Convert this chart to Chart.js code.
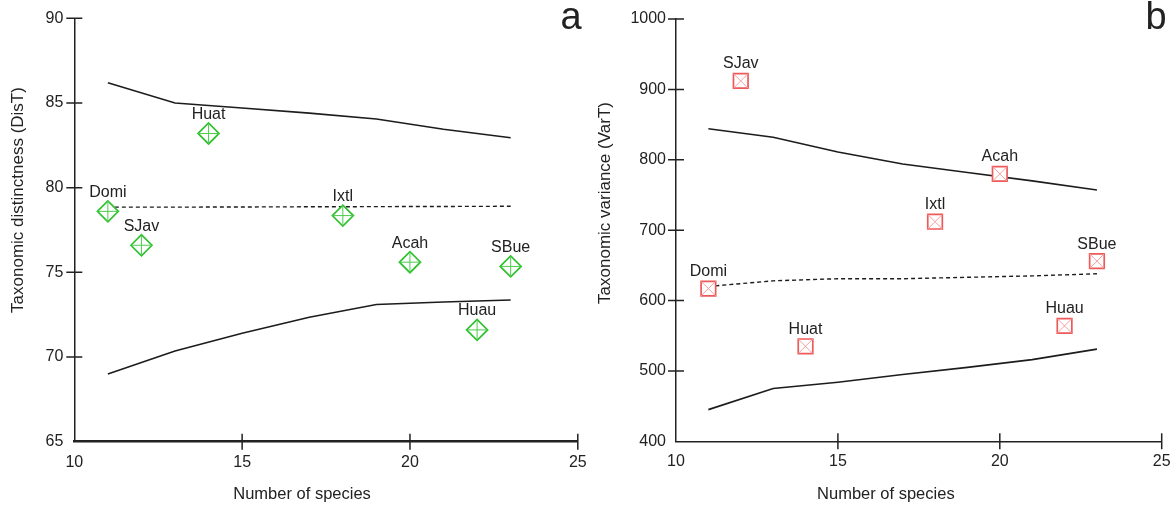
<!DOCTYPE html>
<html>
<head>
<meta charset="utf-8">
<title>Taxonomic distinctness and variance</title>
<script src="https://cdn.jsdelivr.net/npm/chart.js@4.4.1/dist/chart.umd.min.js"></script>
<style>
    html, body { margin: 0; padding: 0; background: #fff; }
    #wrap { position: relative; width: 1176px; height: 505px; overflow: hidden; }
    .panel { position: absolute; top: 0; height: 505px; }
    #distPanel { left: 0; width: 590px; }
    #varPanel { left: 590px; width: 586px; }
</style>
</head>
<body>
<div id="wrap">
    <div class="panel" id="distPanel"><canvas id="distChart"></canvas></div>
    <div class="panel" id="varPanel"><canvas id="varChart"></canvas></div>
</div>
<script>
// sites and their observed values
const sites = ['Domi', 'SJav', 'Huat', 'Ixtl', 'Acah', 'SBue', 'Huau'];
const speciesCount = [11, 12, 14, 18, 20, 23, 22];
const distinctness = [78.6, 76.6, 83.2, 78.35, 75.6, 75.35, 71.6];
const variance = [617, 912, 535, 712, 780, 656, 564];

// expected mean and 95% funnel limits
const funnelX = [11, 13, 15, 17, 19, 21, 23];
const distUpper = [86.2, 85.0, 84.7, 84.4, 84.05, 83.45, 82.95];
const distMean = [78.85, 78.85, 78.86, 78.87, 78.88, 78.89, 78.9];
const distLower = [69.0, 70.35, 71.4, 72.35, 73.1, 73.25, 73.37];
const varUpper = [844, 832, 811, 794, 782, 770, 757];
const varMean = [620, 628, 631, 631, 633, 635, 638];
const varLower = [445, 475, 484, 495, 505, 516, 531];

// axis ticks
const speciesTicks = [10, 15, 20, 25];
const distTicks = [65, 70, 75, 80, 85, 90];
const varTicks = [400, 500, 600, 700, 800, 900, 1000];

const FONT = '"Liberation Sans", Arial, Helvetica, sans-serif';
const INK = '#222';

Chart.defaults.font.family = FONT;
Chart.defaults.font.size = 16;
Chart.defaults.color = INK;

function pts(xs, ys) {
    return xs.map((x, i) => ({ x: x, y: ys[i] }));
}

// tick marks that straddle the axis line (the origin tick is left out)
const crossTicks = {
    id: 'crossTicks',
    afterDraw(chart) {
        const { ctx, chartArea, scales } = chart;
        const len = 8;
        ctx.save();
        ctx.strokeStyle = INK;
        ctx.lineWidth = 1.5;
        ctx.beginPath();
        scales.x.ticks.forEach(t => {
            if (t.value === scales.x.min) return;
            const px = scales.x.getPixelForValue(t.value);
            ctx.moveTo(px, chartArea.bottom - len);
            ctx.lineTo(px, chartArea.bottom + len);
        });
        scales.y.ticks.forEach(t => {
            if (t.value === scales.y.min) return;
            const py = scales.y.getPixelForValue(t.value);
            ctx.moveTo(chartArea.left - len, py);
            ctx.lineTo(chartArea.left + len, py);
        });
        ctx.stroke();
        ctx.restore();
    }
};

// site names above each marker
const siteLabels = {
    id: 'siteLabels',
    afterDatasetsDraw(chart, args, opts) {
        const meta = chart.getDatasetMeta(opts.datasetIndex);
        const ctx = chart.ctx;
        ctx.save();
        ctx.font = '16px ' + FONT;
        ctx.fillStyle = INK;
        ctx.textAlign = 'center';
        ctx.textBaseline = 'middle';
        meta.data.forEach((pt, i) => {
            ctx.fillText(sites[i], pt.x, pt.y - opts.offset);
        });
        ctx.restore();
    }
};

// axis titles and the panel letter
const panelText = {
    id: 'panelText',
    afterDraw(chart, args, opts) {
        const { ctx, chartArea } = chart;
        ctx.save();
        ctx.fillStyle = INK;
        ctx.textAlign = 'center';
        ctx.textBaseline = 'middle';
        ctx.font = '16.5px ' + FONT;
        ctx.fillText(opts.xTitle, (chartArea.left + chartArea.right) / 2 + opts.xTitleShift, opts.xTitleY);

        ctx.save();
        ctx.font = opts.yTitleSize + 'px ' + FONT;
        ctx.translate(opts.yTitleX, opts.yTitleY);
        ctx.rotate(-Math.PI / 2);
        ctx.fillText(opts.yTitle, 0, 0);
        ctx.restore();

        ctx.font = '38px ' + FONT;
        ctx.textBaseline = 'alphabetic';
        ctx.fillText(opts.letter, opts.letterX, 29);
        ctx.restore();
    }
};

function buildChart(canvasId, cfg) {
    const ctx = document.getElementById(canvasId);
    if (!ctx) return;

    new Chart(ctx, {
        type: 'scatter',
        data: {
            datasets: [
                {
                    label: 'marker inner',
                    data: pts(speciesCount, cfg.values),
                    pointStyle: cfg.innerStyle,
                    pointRadius: cfg.radius,
                    borderColor: cfg.innerColor,
                    borderWidth: 1,
                    backgroundColor: 'rgba(0,0,0,0)',
                    order: 0
                },
                {
                    label: 'sites',
                    data: pts(speciesCount, cfg.values),
                    pointStyle: cfg.outerStyle,
                    pointRadius: cfg.radius,
                    borderColor: cfg.outerColor,
                    borderWidth: 1.7,
                    backgroundColor: '#fff',
                    order: 1
                },
                {
                    label: 'upper limit',
                    data: pts(funnelX, cfg.upper),
                    showLine: true,
                    pointRadius: 0,
                    borderColor: '#1c1c1c',
                    borderWidth: 1.6,
                    order: 2
                },
                {
                    label: 'mean',
                    data: pts(funnelX, cfg.mean),
                    showLine: true,
                    pointRadius: 0,
                    borderColor: '#1c1c1c',
                    borderWidth: 1.4,
                    borderDash: [4, 3],
                    order: 2
                },
                {
                    label: 'lower limit',
                    data: pts(funnelX, cfg.lower),
                    showLine: true,
                    pointRadius: 0,
                    borderColor: '#1c1c1c',
                    borderWidth: 1.6,
                    order: 2
                }
            ]
        },
        options: {
            responsive: true,
            maintainAspectRatio: false,
            animation: false,
            events: [],
            clip: false,
            layout: {
                padding: cfg.padding
            },
            plugins: {
                legend: { display: false },
                tooltip: { enabled: false },
                siteLabels: { datasetIndex: 1, offset: cfg.labelOffset },
                panelText: cfg.text
            },
            scales: {
                x: {
                    type: 'linear',
                    min: 10,
                    max: 25,
                    afterBuildTicks: s => { s.ticks = speciesTicks.map(v => ({ value: v })); },
                    afterFit: s => { s.height = cfg.xAxisHeight; },
                    grid: { display: false },
                    border: { display: true, color: INK, width: cfg.xBorder },
                    ticks: { padding: 3, color: INK, font: { size: 16 }, callback: v => String(v) }
                },
                y: {
                    type: 'linear',
                    min: cfg.yMin,
                    max: cfg.yMax,
                    afterBuildTicks: s => { s.ticks = cfg.ticks.map(v => ({ value: v })); },
                    afterFit: s => { s.width = cfg.yAxisWidth; },
                    grid: { display: false },
                    border: { display: true, color: INK, width: 1.5 },
                    ticks: { padding: cfg.yTickPad, color: INK, font: { size: 16 }, callback: v => String(v) }
                }
            }
        },
        plugins: [crossTicks, siteLabels, panelText]
    });
}

function initDistinctnessChart() {
    buildChart('distChart', {
        values: distinctness,
        upper: distUpper,
        mean: distMean,
        lower: distLower,
        yMin: 65,
        yMax: 90,
        ticks: distTicks,
        outerStyle: 'rectRot',
        innerStyle: 'cross',
        radius: 10.5,
        outerColor: '#2ec02e',
        innerColor: '#4ccc4c',
        labelOffset: 19,
        padding: { left: 0, right: 11.7, top: 18.3, bottom: 0 },
        yAxisWidth: 74.3,
        xAxisHeight: 63.3,
        xBorder: 2.5,
        yTickPad: 3,
        text: {
            xTitle: 'Number of species',
            xTitleShift: -24,
            xTitleY: 494,
            yTitle: 'Taxonomic distinctness (DisT)',
            yTitleSize: 17,
            yTitleX: 18,
            yTitleY: 200,
            letter: 'a',
            letterX: 571
        }
    });
}

function initVarianceChart() {
    buildChart('varChart', {
        values: variance,
        upper: varUpper,
        mean: varMean,
        lower: varLower,
        yMin: 400,
        yMax: 1000,
        ticks: varTicks,
        outerStyle: 'rect',
        innerStyle: 'crossRot',
        radius: 10.3,
        outerColor: '#ee5a5a',
        innerColor: '#f4a0a0',
        labelOffset: 17,
        padding: { left: 0, right: 14.3, top: 19, bottom: 0 },
        yAxisWidth: 86,
        xAxisHeight: 63.7,
        xBorder: 1.5,
        yTickPad: 2,
        text: {
            xTitle: 'Number of species',
            xTitleShift: -33,
            xTitleY: 494,
            yTitle: 'Taxonomic variance (VarT)',
            yTitleSize: 17,
            yTitleX: 15,
            yTitleY: 203,
            letter: 'b',
            letterX: 566
        }
    });
}

document.addEventListener('DOMContentLoaded', function() {
    initDistinctnessChart();
    initVarianceChart();
});
</script>
</body>
</html>
